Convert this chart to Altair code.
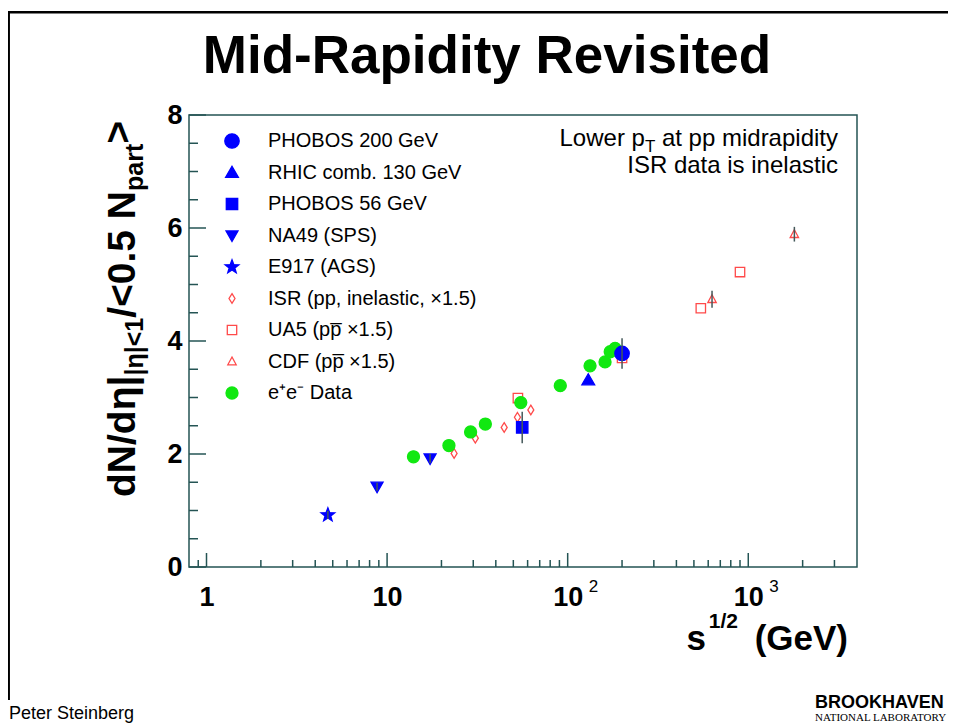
import math
import altair as alt
import pandas as pd

FONT = "Liberation Sans"
FRAME = "#245454"

# ---------------- data ----------------
series_names = [
    "PHOBOS 200 GeV",
    "RHIC comb. 130 GeV",
    "PHOBOS 56 GeV",
    "NA49 (SPS)",
    "E917 (AGS)",
    "ISR (pp, inelastic, \u00d71.5)",
    "UA5 (pp\u0305 \u00d71.5)",
    "CDF (pp\u0305 \u00d71.5)",
    "e\u207ae\u207b Data",
]

isr_x = [23.5, 30.8, 44.5, 52.7, 62.5]
isr_y = [2.01, 2.28, 2.47, 2.65, 2.78]

ua5_x = [53, 200, 546, 900]
ua5_y = [2.99, 3.70, 4.58, 5.22]

cdf_x = [630, 1800]
cdf_y = [4.74, 5.89]
cdf_err = [0.15, 0.13]

ee_x = [14, 22, 29, 35, 55, 91, 133, 161, 172, 183]
ee_y = [1.95, 2.15, 2.39, 2.53, 2.91, 3.21, 3.56, 3.63, 3.81, 3.87]

e917_x, e917_y, e917_err = [4.7], [0.92], [0.07]
na49_x, na49_y, na49_err = [8.8, 17.3], [1.42, 1.92], [0.07, 0.08]
phobos56_x, phobos56_y, phobos56_err = [56], [2.47], [0.28]
rhic130_x, rhic130_y = [130], [3.31]
phobos200_x, phobos200_y, phobos200_err = [200], [3.78], [0.27]

x_tick_values = [1, 10, 100, 1000]
x_tick_text = ["1", "10", "10", "10"]
x_tick_exp = ["", "", "2", "3"]
y_tick_values = [0, 2, 4, 6, 8]
x_minor = [0.9] + [m * 10 ** e for e in range(0, 3) for m in range(2, 10)] + [2000, 3000]
y_minor = [v / 2 for v in range(1, 16) if v % 4 != 0]

# ---------------- table ----------------
rows = []
def add(name, xs, ys, errs=None):
    for i, (xv, yv) in enumerate(zip(xs, ys)):
        e = errs[i] if errs else 0.0
        rows.append({"series": name, "x": xv, "y": yv, "err": e})

# drawing order: open red markers, green, then blue on top
add(series_names[5], isr_x, isr_y)
add(series_names[6], ua5_x, ua5_y)
add(series_names[7], cdf_x, cdf_y, cdf_err)
add(series_names[8], ee_x, ee_y)
add(series_names[4], e917_x, e917_y, e917_err)
add(series_names[3], na49_x, na49_y, na49_err)
add(series_names[2], phobos56_x, phobos56_y, phobos56_err)
add(series_names[1], rhic130_x, rhic130_y)
add(series_names[0], phobos200_x, phobos200_y, phobos200_err)
df = pd.DataFrame(rows)

exp_df = pd.DataFrame({"v": x_tick_values, "e": x_tick_exp})
exp_df = exp_df[exp_df["e"] != ""]

# ---------------- marker shapes (unit = 10 px at size 400) ----------------
def circ(r):
    return f"M{-r},0A{r},{r},0,1,1,{r},0A{r},{r},0,1,1,{-r},0Z"

def star(ro, ri):
    pts = []
    for k in range(10):
        a = math.radians(-90 + 36 * k)
        r = ro if k % 2 == 0 else ri
        pts.append(f"{r*math.cos(a):.3f},{r*math.sin(a):.3f}")
    return "M" + "L".join(pts) + "Z"

shapes = [
    circ(0.72),
    "M0,-0.62L0.64,0.48L-0.64,0.48Z",
    "M-0.57,-0.57L0.57,-0.57L0.57,0.57L-0.57,0.57Z",
    "M0,0.6L0.6,-0.46L-0.6,-0.46Z",
    star(0.72, 0.30),
    "M0,-0.48L0.3,0L0,0.48L-0.3,0Z",
    "M-0.47,-0.47L0.47,-0.47L0.47,0.47L-0.47,0.47Z",
    "M0,-0.45L0.42,0.33L-0.42,0.33Z",
    circ(0.6),
]
BLUE, RED, GREEN = "#0000ff", "#ff4a4a", "#11e811"
fills = [BLUE, BLUE, BLUE, BLUE, BLUE, "transparent", "transparent", "transparent", GREEN]
strokes = [BLUE, BLUE, BLUE, BLUE, BLUE, RED, RED, RED, GREEN]

W, H = 668, 452
xscale = alt.Scale(type="log", domain=[0.8, 4000], nice=False)
yscale = alt.Scale(domain=[0, 8], nice=False, zero=False)

label_expr = "{" + ",".join(f"'{v}':'{t}'" for v, t in zip(x_tick_values, x_tick_text)) + "}[datum.value]"
xaxis = alt.Axis(values=x_tick_values, labelExpr=label_expr, labelFont=FONT, labelFontSize=27,
                 labelFontWeight="bold", labelColor="black", labelPadding=17, labelFlush=False,
                 ticks=False, domain=False, grid=False, title=None)
yaxis = alt.Axis(values=y_tick_values, labelFont=FONT, labelFontSize=27, labelFontWeight="bold",
                 labelColor="black", labelPadding=7, labelFlush=False, ticks=False, domain=False,
                 grid=False, title=None)

legend = alt.Legend(title=None, orient="none", legendX=32, legendY=15, labelFont=FONT,
                    labelFontSize=20, labelColor="black", labelOffset=25, rowPadding=10.5,
                    symbolSize=400, symbolStrokeWidth=1.3, padding=0, labelLimit=400,
                    symbolOpacity=1)

points = alt.Chart(df).mark_point(size=400, opacity=1, strokeWidth=1.3).encode(
    x=alt.X("x:Q", scale=xscale, axis=xaxis),
    y=alt.Y("y:Q", scale=yscale, axis=yaxis),
    shape=alt.Shape("series:N", scale=alt.Scale(domain=series_names, range=shapes), legend=legend),
    fill=alt.Fill("series:N", scale=alt.Scale(domain=series_names, range=fills), legend=legend),
    stroke=alt.Stroke("series:N", scale=alt.Scale(domain=series_names, range=strokes), legend=legend),
)

errbars = alt.Chart(df).transform_filter("datum.err > 0").transform_calculate(
    lo="datum.y - datum.err", hi="datum.y + datum.err"
).mark_rule(color="#44585a", strokeWidth=1.5).encode(
    x=alt.X("x:Q", scale=xscale, axis=xaxis),
    y=alt.Y("lo:Q", scale=yscale, axis=yaxis),
    y2="hi:Q",
)

def xticks(vals, length):
    return alt.Chart(pd.DataFrame({"v": vals})).mark_rule(color=FRAME, strokeWidth=1.5).encode(
        x=alt.X("v:Q", scale=xscale, axis=xaxis), y=alt.value(H), y2=alt.value(H - length))

def yticks(vals, length):
    return alt.Chart(pd.DataFrame({"v": vals})).mark_rule(color=FRAME, strokeWidth=1.5).encode(
        y=alt.Y("v:Q", scale=yscale, axis=yaxis), x=alt.value(0), x2=alt.value(length))

exps = alt.Chart(exp_df).mark_text(font=FONT, fontSize=17, align="left", baseline="alphabetic",
                                   dx=21, color="black").encode(
    x=alt.X("v:Q", scale=xscale, axis=xaxis), y=alt.value(H + 25), text="e:N")

def txt(s, x, y, size, weight="normal", align="left", angle=0, font=FONT, color="black"):
    return alt.Chart(alt.Data(values=[{}])).mark_text(
        text=s, font=font, fontSize=size, fontWeight=weight, align=align,
        baseline="alphabetic", angle=angle, color=color).encode(x=alt.value(x), y=alt.value(y))

OX, OY = 189, 115  # page position of plot origin
def rx(p): return p - OX
def ry(p): return p - OY

texts = [
    txt("Mid-Rapidity Revisited", rx(487), ry(73), 53, "bold", "center"),
    txt("at pp midrapidity", rx(838), ry(146), 24, align="right"),
    txt("T", rx(838) - 176 - 6.7, ry(152), 17, align="right"),
    txt("Lower p", rx(838) - 176 - 6.7 - 10.4, ry(146), 24, align="right"),
    txt("ISR data is inelastic", rx(838), ry(173), 24, align="right"),
    txt("(GeV)", rx(848), ry(650), 35, "bold", "right"),
    txt("1/2", rx(738), ry(628), 21, "bold", "right"),
    txt("s", rx(706), ry(650), 35, "bold", "right"),
    txt("dN/d\u03b7|", rx(135), ry(497), 39, "bold", angle=270),
    txt("|\u03b7|<1", rx(143), ry(375.6), 25, "bold", angle=270),
    txt("/<0.5 N", rx(135), ry(317.8), 39, "bold", angle=270),
    txt("part", rx(143), ry(191), 25, "bold", angle=270),
    txt(">", rx(131), ry(143.8), 39, "bold", angle=270),
    txt("Peter Steinberg", rx(9), ry(719), 18),
    txt("BROOKHAVEN", rx(815), ry(708), 18, "bold"),
    txt("NATIONAL LABORATORY", rx(815), ry(721), 11, font="Liberation Serif"),
]

border_top = alt.Chart(alt.Data(values=[{}])).mark_rule(color="black", strokeWidth=2.5).encode(
    x=alt.value(rx(7.5)), x2=alt.value(rx(960)), y=alt.value(ry(12.2)))
border_left = alt.Chart(alt.Data(values=[{}])).mark_rule(color="black", strokeWidth=2.5).encode(
    x=alt.value(rx(8.7)), y=alt.value(ry(11)), y2=alt.value(ry(700)))

chart = alt.layer(
    border_top, border_left,
    xticks(x_minor, 7), xticks(x_tick_values, 14),
    yticks(y_minor, 9), yticks(y_tick_values, 17),
    points, errbars, exps, *texts,
).properties(
    width=W, height=H,
    padding={"left": 181, "top": 107, "right": 91, "bottom": 156},
    autosize=alt.AutoSizeParams(type="none"),
    background="white",
).configure_view(stroke=FRAME, strokeWidth=1.5)

chart.save("out.html", embed_options={"renderer": "svg", "actions": False})
